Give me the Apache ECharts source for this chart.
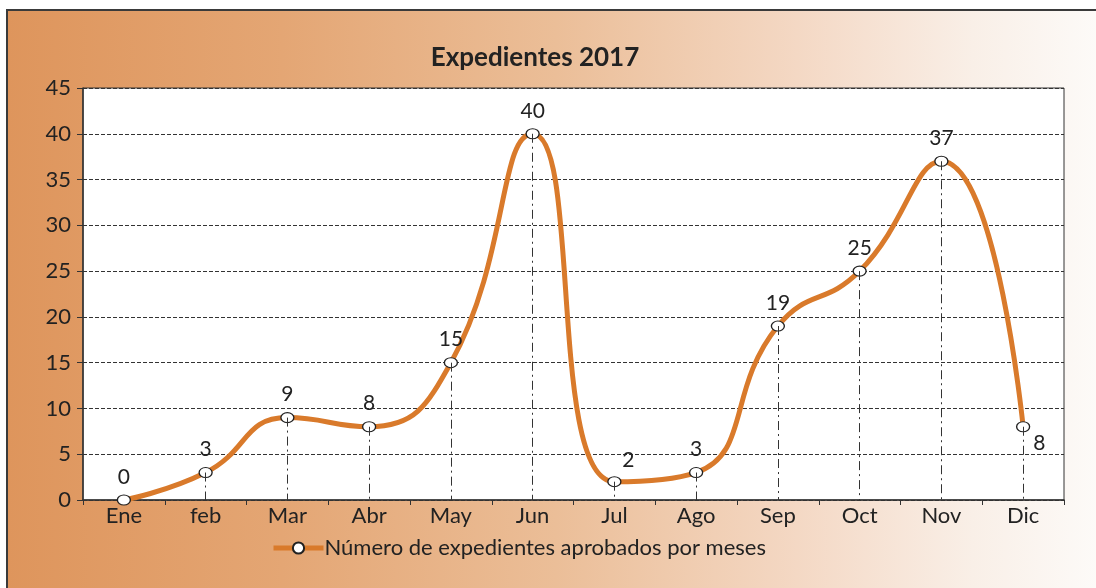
<!DOCTYPE html>
<html>
<head>
<meta charset="utf-8">
<script src="https://cdn.jsdelivr.net/npm/echarts@6/dist/echarts.min.js"></script>
<style>
  html, body { margin: 0; padding: 0; background: #fff; }
  .frame {
    position: absolute; left: 6px; top: 9px; width: 1096px; height: 700px;
    border: 2px solid #3a3a3a;
    background: linear-gradient(to right, #de955c 0%, #e4a674 25%, #ebbe98 50%, #f4d8c4 72%, #f9efe7 88%, #fdfbf9 100%);
  }
  #chart { position: absolute; left: 0; top: 0; width: 1096px; height: 588px; }
</style>
</head>
<body>
<div class="frame"></div>
<div id="chart"></div>
<script>
// datos del grafico
const meses = ["Ene", "feb", "Mar", "Abr", "May", "Jun", "Jul", "Ago", "Sep", "Oct", "Nov", "Dic"];
const expedientes = [0, 3, 9, 8, 15, 40, 2, 3, 19, 25, 37, 8];
const serieNombre = "Número de expedientes aprobados por meses";

const font = "Lato, 'Open Sans', sans-serif";

// etiquetas: casi todas arriba, Jul y Dic desplazadas
let puntos = expedientes.map((v, i) => {
  let p = { value: v };
  if (meses[i] == "Jul") {
    p.label = { position: "top", offset: [14, 2] };
  }
  if (meses[i] == "Dic") {
    p.label = { position: "right", offset: [-4, 16] };
  }
  return p;
});

// lineas verticales punto-eje
let caidas = expedientes.map((v, i) => [
  { coord: [meses[i], v] },
  { coord: [meses[i], 0] }
]);

const option = {
  backgroundColor: "transparent",
  title: {
    text: "Expedientes 2017",
    left: 530,
    textAlign: "center",
    top: 40,
    textStyle: { fontFamily: font, fontSize: 26, fontWeight: "bold", color: "#222" }
  },
  grid: {
    left: 83, top: 88, right: 32, bottom: 88,
    show: true,
    backgroundColor: "#fff",
    borderColor: "#333",
    borderWidth: 1
  },
  legend: {
    bottom: 24,
    left: 266,
    itemWidth: 50,
    itemHeight: 14,
    itemGap: 2,
    lineStyle: { width: 5, color: "#d97a2b" },
    textStyle: { fontFamily: font, fontSize: 22, color: "#222", padding: [0, 0, 0, -4] },
    data: [serieNombre]
  },
  xAxis: {
    type: "category",
    data: meses,
    boundaryGap: true,
    axisLine: { lineStyle: { color: "#333", width: 1.5 } },
    axisTick: { show: true, length: 5, lineStyle: { color: "#333" } },
    axisLabel: { fontFamily: font, fontSize: 22, color: "#222", margin: 5 }
  },
  yAxis: {
    type: "value",
    min: 0,
    max: 45,
    interval: 5,
    axisLine: { show: true, lineStyle: { color: "#333", width: 1.5 } },
    axisTick: { show: true, length: 6, lineStyle: { color: "#333" } },
    axisLabel: { fontFamily: font, fontSize: 22, color: "#222", margin: 12 },
    splitLine: { lineStyle: { color: "#333", type: [4, 2], width: 1 } }
  },
  series: [
    {
      name: serieNombre,
      type: "line",
      smooth: 0.5,
      data: puntos,
      symbol: "circle",
      symbolSize: [13, 10],
      itemStyle: { color: "#fff", borderColor: "#222", borderWidth: 1.2 },
      lineStyle: { color: "#d97a2b", width: 5 },
      label: {
        show: true,
        position: "top",
        distance: 7,
        fontFamily: font,
        fontSize: 21,
        color: "#222"
      },
      markLine: {
        silent: true,
        symbol: "none",
        label: { show: false },
        lineStyle: { color: "#333", width: 1, type: [9, 4, 2, 4] },
        data: caidas
      },
      z: 3
    }
  ]
};

var myChart = echarts.init(document.getElementById("chart"));
myChart.setOption(option);
</script>
</body>
</html>
